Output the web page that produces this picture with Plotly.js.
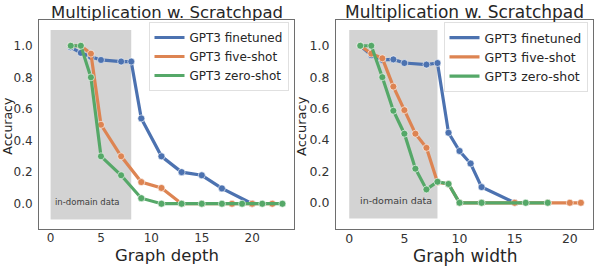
<!DOCTYPE html>
<html>
<head>
<meta charset="utf-8">
<script src="https://cdn.plot.ly/plotly-3.0.1.min.js"></script>
<style>html,body{margin:0;padding:0;background:#fff;}#chart{width:598px;height:266px;}</style>
</head>
<body>
<div id="chart"></div>
<script>
// ---- Data: left panel (Graph depth) ----
const depthFinetunedX = [2, 3, 4, 5, 7, 8, 9, 11, 13, 15, 17, 20];
const depthFinetunedY = [0.99, 0.955, 0.93, 0.91, 0.90, 0.90, 0.54, 0.30, 0.20, 0.18, 0.097, 0.0];
const depthFiveShotX = [2, 3, 4, 5, 7, 9, 11, 13, 15, 18, 20, 22];
const depthFiveShotY = [1.0, 1.0, 0.95, 0.50, 0.30, 0.137, 0.10, 0.0, 0.0, 0.0, 0.0, 0.0];
const depthZeroShotX = [2, 3, 4, 5, 7, 9, 11, 13, 15, 17, 19, 21, 23];
const depthZeroShotY = [1.0, 1.0, 0.80, 0.30, 0.18, 0.035, 0.0, 0.0, 0.0, 0.0, 0.0, 0.0, 0.0];

// ---- Data: right panel (Graph width) ----
const widthFinetunedX = [1, 2, 3, 4, 5, 7, 8, 9, 10, 11, 12, 15];
const widthFinetunedY = [1.0, 0.94, 0.91, 0.913, 0.89, 0.88, 0.89, 0.446, 0.33, 0.25, 0.10, 0.0];
const widthFiveShotX = [1, 2, 3, 4, 5, 6, 7, 8, 9, 10, 12, 15, 18, 20, 21];
const widthFiveShotY = [1.0, 0.95, 0.92, 0.74, 0.59, 0.44, 0.35, 0.13, 0.12, 0.0, 0.0, 0.0, 0.0, 0.0, 0.0];
const widthZeroShotX = [1, 2, 3, 4, 5, 6, 7, 8, 9, 10, 12, 16, 18];
const widthZeroShotY = [1.0, 1.0, 0.80, 0.586, 0.44, 0.217, 0.085, 0.134, 0.12, 0.0, 0.0, 0.0, 0.0];

const seriesNames = ["GPT3 finetuned", "GPT3 five-shot", "GPT3 zero-shot"];
const seriesColors = ["#4C72B0", "#DD8452", "#55A868"];
const inDomainX = [0, 8];
const inDomainY = [-0.1, 1.1];
const yTicks = [0, 0.2, 0.4, 0.6, 0.8, 1.0];
const xTicks = [0, 5, 10, 15, 20];
const panelTitle = "Multiplication w. Scratchpad";

const FONT = "DejaVu Sans, sans-serif";

function lineTrace(x, y, i, xa, ya) {
  return {
    x: x, y: y, xaxis: xa, yaxis: ya, type: "scatter", mode: "lines+markers",
    line: {color: seriesColors[i], width: 3.2},
    marker: {color: seriesColors[i], size: 7, line: {color: "white", width: 0.6}},
    showlegend: false, hoverinfo: "skip"
  };
}
function legendTrace(i, xa, ya, lg) {
  return {
    x: [null], y: [null], xaxis: xa, yaxis: ya, type: "scatter", mode: "lines",
    name: seriesNames[i], legend: lg,
    line: {color: seriesColors[i], width: 3.2}, showlegend: true
  };
}

const traces = [
  lineTrace(depthFinetunedX, depthFinetunedY, 0, "x", "y"),
  lineTrace(depthFiveShotX, depthFiveShotY, 1, "x", "y"),
  lineTrace(depthZeroShotX, depthZeroShotY, 2, "x", "y"),
  lineTrace(widthFinetunedX, widthFinetunedY, 0, "x2", "y2"),
  lineTrace(widthFiveShotX, widthFiveShotY, 1, "x2", "y2"),
  lineTrace(widthZeroShotX, widthZeroShotY, 2, "x2", "y2"),
  legendTrace(0, "x", "y", "legend"),
  legendTrace(1, "x", "y", "legend"),
  legendTrace(2, "x", "y", "legend"),
  legendTrace(0, "x2", "y2", "legend2"),
  legendTrace(1, "x2", "y2", "legend2"),
  legendTrace(2, "x2", "y2", "legend2")
];

function xAxis(domain, range, fs) {
  return {
    domain: domain, range: range, tickvals: xTicks, ticks: "", ticklabelstandoff: -2,
    showgrid: false, zeroline: false, showline: true, mirror: true, linecolor: "#6e6e6e", linewidth: 1,
    tickfont: {family: FONT, size: fs, color: "#333"}, fixedrange: true
  };
}
function yAxis(domain, range, fs, anchor) {
  return {
    domain: domain, range: range, tickvals: yTicks, tickformat: ".1f", ticks: "outside", ticklen: 3, tickcolor: "rgba(0,0,0,0)",
    showgrid: false, zeroline: false, showline: true, mirror: true, linecolor: "#6e6e6e", linewidth: 1,
    tickfont: {family: FONT, size: fs, color: "#333"}, anchor: anchor, fixedrange: true
  };
}

const yDom = [1 - 229 / 266, 1 - 20 / 266];
const layout = {
  width: 598, height: 266,
  margin: {l: 0, r: 0, t: 0, b: 0},
  paper_bgcolor: "white", plot_bgcolor: "white",
  showlegend: true,
  xaxis: xAxis([39 / 598, 294 / 598], [-1.15, 24.15], 12),
  yaxis: yAxis(yDom, [-0.16, 1.163], 12, "x"),
  xaxis2: Object.assign(xAxis([336 / 598, 593 / 598], [-1.2, 22.1], 12.5), {anchor: "y2"}),
  yaxis2: yAxis(yDom, [-0.167, 1.164], 12.5, "x2"),
  legend: {
    x: 288.5 / 598, xanchor: "right", y: 1 - 22 / 266, yanchor: "top",
    bgcolor: "white", bordercolor: "#e0e0e0", borderwidth: 1,
    font: {family: FONT, size: 12, color: "#262626"}, tracegroupgap: 0
  },
  legend2: {
    x: 587.5 / 598, xanchor: "right", y: 1 - 22 / 266, yanchor: "top",
    bgcolor: "white", bordercolor: "#e0e0e0", borderwidth: 1,
    font: {family: FONT, size: 12.5, color: "#262626"}, tracegroupgap: 0
  },
  shapes: [
    {type: "rect", xref: "x", yref: "y", x0: inDomainX[0], x1: inDomainX[1], y0: inDomainY[0], y1: inDomainY[1],
     fillcolor: "#d3d3d3", line: {width: 0}, layer: "below"},
    {type: "rect", xref: "x2", yref: "y2", x0: inDomainX[0], x1: inDomainX[1], y0: inDomainY[0], y1: inDomainY[1],
     fillcolor: "#d3d3d3", line: {width: 0}, layer: "below"}
  ],
  annotations: [
    {text: panelTitle, xref: "paper", yref: "paper", x: 166.5 / 598, y: 1 - 12 / 266, showarrow: false,
     xanchor: "center", yanchor: "middle", font: {family: FONT, size: 16.5, color: "#262626"}},
    {text: panelTitle, xref: "paper", yref: "paper", x: 464.5 / 598, y: 1 - 12 / 266, showarrow: false,
     xanchor: "center", yanchor: "middle", font: {family: FONT, size: 17, color: "#262626"}},
    {text: "Graph depth", xref: "paper", yref: "paper", x: 166.5 / 598, y: 1 - 255.5 / 266, showarrow: false,
     xanchor: "center", yanchor: "middle", font: {family: FONT, size: 16.5, color: "#262626"}},
    {text: "Graph width", xref: "paper", yref: "paper", x: 464.5 / 598, y: 1 - 255.5 / 266, showarrow: false,
     xanchor: "center", yanchor: "middle", font: {family: FONT, size: 17, color: "#262626"}},
    {text: "Accuracy", xref: "paper", yref: "paper", x: 7.7 / 598, y: 1 - 126 / 266, showarrow: false, textangle: -90,
     xanchor: "center", yanchor: "middle", font: {family: FONT, size: 12.5, color: "#262626"}},
    {text: "Accuracy", xref: "paper", yref: "paper", x: 302 / 598, y: 1 - 126 / 266, showarrow: false, textangle: -90,
     xanchor: "center", yanchor: "middle", font: {family: FONT, size: 13, color: "#262626"}},
    {text: "in-domain data", xref: "x", yref: "y", x: 3.7, y: 0.013, showarrow: false,
     xanchor: "center", yanchor: "middle", font: {family: FONT, size: 8.5, color: "#404040"}},
    {text: "in-domain data", xref: "x2", yref: "y2", x: 4.25, y: 0.017, showarrow: false,
     xanchor: "center", yanchor: "middle", font: {family: FONT, size: 9.5, color: "#404040"}}
  ]
};

Plotly.newPlot("chart", traces, layout, {staticPlot: true, displayModeBar: false});
</script>
</body>
</html>
